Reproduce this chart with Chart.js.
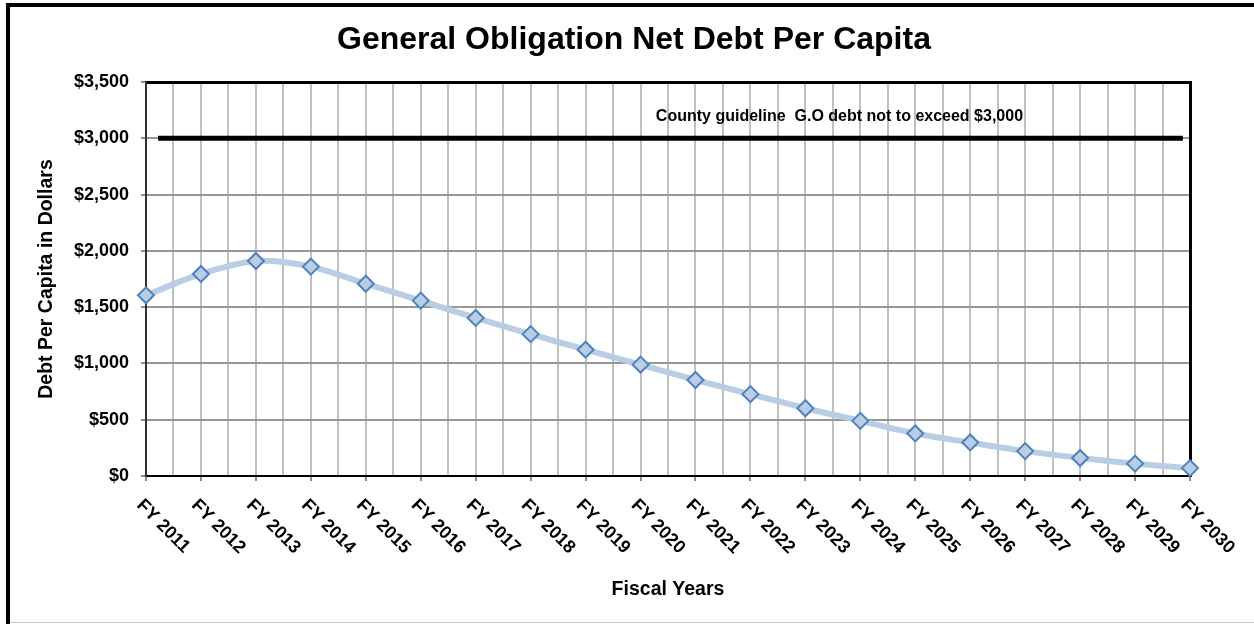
<!DOCTYPE html>
<html>
<head>
<meta charset="utf-8">
<title>General Obligation Net Debt Per Capita</title>
<script src="https://cdn.jsdelivr.net/npm/chart.js@4/dist/chart.umd.min.js"></script>
<style>
  html, body { margin: 0; padding: 0; background: #ffffff; }
  canvas { display: block; }
</style>
</head>
<body>
<canvas id="debtChart" width="1254" height="624"></canvas>
<script>
// Fiscal years on the category axis
const fiscalYears = [
  'FY 2011', 'FY 2012', 'FY 2013', 'FY 2014', 'FY 2015',
  'FY 2016', 'FY 2017', 'FY 2018', 'FY 2019', 'FY 2020',
  'FY 2021', 'FY 2022', 'FY 2023', 'FY 2024', 'FY 2025',
  'FY 2026', 'FY 2027', 'FY 2028', 'FY 2029', 'FY 2030'
];

// General obligation net debt per capita, in dollars
const debtPerCapita = [
  1605, 1795, 1910, 1860, 1708,
  1558, 1404, 1260, 1122, 989,
  853, 727, 602, 490, 378,
  298, 221, 160, 110, 70
];

// County guideline ceiling and the stretch of years the rule line covers
const guidelineLimit = [3000, 3000];
const guidelineSpan = [0.22, 18.87];
const guidelineNote = 'County guideline  G.O debt not to exceed $3,000';
const guidelineNoteAt = 12.62;

// Value axis
const yAxisMax = 3500;
const yAxisStep = 500;

const FONT = '"Liberation Sans", Arial, Helvetica, sans-serif';

const seriesPoints = debtPerCapita.map((v, i) => ({ x: i, y: v }));
const guidelinePoints = guidelineSpan.map((x, i) => ({ x: x, y: guidelineLimit[i] }));

const dollars = v => '$' + Number(v).toLocaleString('en-US');

// White page, outer frame, slanted year labels and the guideline note
const decorations = {
  id: 'decorations',
  beforeDraw(chart) {
    const ctx = chart.ctx;
    ctx.save();
    ctx.fillStyle = '#ffffff';
    ctx.fillRect(0, 0, chart.width, chart.height);
    ctx.restore();
  },
  afterDraw(chart) {
    const ctx = chart.ctx;
    const xs = chart.scales.x;
    const ys = chart.scales.y;
    const area = chart.chartArea;

    ctx.save();
    // outer frame
    ctx.fillStyle = '#000000';
    ctx.fillRect(6, 3, chart.width - 6, 4);
    ctx.fillRect(6, 3, 4, chart.height - 3);
    ctx.fillStyle = '#c8c8c8';
    ctx.fillRect(10, 622, chart.width - 10, 1);

    // year labels, slanted downwards to the right
    const size = 18;
    ctx.font = 'bold ' + size + 'px ' + FONT;
    ctx.fillStyle = '#000000';
    ctx.textAlign = 'left';
    ctx.textBaseline = 'alphabetic';
    const cap = 0.716 * size;
    fiscalYears.forEach((label, i) => {
      const px = xs.getPixelForValue(i);
      ctx.save();
      ctx.translate(px - 1, area.bottom + 21);
      ctx.rotate(Math.PI / 4);
      ctx.fillText(label, 0, cap);
      ctx.restore();
    });

    // guideline note above the rule
    ctx.font = 'bold 16px ' + FONT;
    ctx.textAlign = 'center';
    ctx.fillText(guidelineNote, xs.getPixelForValue(guidelineNoteAt), ys.getPixelForValue(guidelineLimit[0]) - 17);
    ctx.restore();
  }
};

new Chart(document.getElementById('debtChart'), {
  type: 'line',
  data: {
    datasets: [
      {
        label: 'Debt Per Capita',
        data: seriesPoints,
        borderColor: '#b9cde5',
        borderWidth: 6,
        tension: 0.3,
        pointStyle: 'rectRot',
        pointRadius: 8,
        pointBackgroundColor: '#b9cde5',
        pointBorderColor: '#4f81bd',
        pointBorderWidth: 2,
        clip: false,
        order: 1
      },
      {
        label: 'Guideline',
        data: guidelinePoints,
        borderColor: '#000000',
        borderWidth: 5,
        pointRadius: 0,
        tension: 0,
        order: 2
      }
    ]
  },
  options: {
    responsive: false,
    animation: false,
    layout: { padding: { left: 14, right: 0, top: 0, bottom: 0 } },
    plugins: {
      legend: { display: false },
      tooltip: { enabled: false },
      title: {
        display: true,
        text: 'General Obligation Net Debt Per Capita',
        color: '#000000',
        font: { family: FONT, size: 32, weight: 'bold', lineHeight: 1.2 },
        padding: { top: 21, bottom: 22.6 }
      }
    },
    scales: {
      x: {
        type: 'linear',
        position: 'bottom',
        min: 0,
        max: fiscalYears.length - 1,
        afterFit: s => { s.height = 148; },
        ticks: { display: false, stepSize: 0.5, autoSkip: false },
        grid: {
          color: '#c0c0c0',
          lineWidth: 2,
          drawTicks: true,
          tickLength: 5,
          tickWidth: 2,
          tickColor: c => (c.tick && Number.isInteger(c.tick.value)) ? '#8c8c8c' : 'rgba(0,0,0,0)'
        },
        border: { display: true, color: '#000000', width: 2 },
        title: {
          display: true,
          text: 'Fiscal Years',
          color: '#000000',
          font: { family: FONT, size: 19.5, weight: 'bold', lineHeight: 1.2 },
          padding: { top: 90, bottom: 22.3 }
        }
      },
      xTop: {
        type: 'linear',
        position: 'top',
        display: true,
        afterFit: s => { s.height = 0; },
        ticks: { display: false },
        grid: { display: false, drawTicks: false },
        border: { display: true, color: '#000000', width: 3 }
      },
      y: {
        type: 'linear',
        position: 'left',
        min: 0,
        max: yAxisMax,
        afterFit: s => { s.width = 132; },
        ticks: {
          stepSize: yAxisStep,
          padding: 12,
          color: '#000000',
          font: { family: FONT, size: 18, weight: 'bold' },
          callback: v => dollars(v)
        },
        grid: {
          color: '#969696',
          lineWidth: 2,
          drawTicks: true,
          tickLength: 5,
          tickColor: '#8c8c8c'
        },
        border: { display: true, color: '#333333', width: 2 },
        title: {
          display: true,
          text: 'Debt Per Capita in Dollars',
          color: '#000000',
          font: { family: FONT, size: 19.5, weight: 'bold', lineHeight: 1.2 },
          padding: { top: 20.6, bottom: 4 }
        }
      },
      yRight: {
        type: 'linear',
        position: 'right',
        display: true,
        afterFit: s => { s.width = 64; },
        ticks: { display: false },
        grid: { display: false, drawTicks: false },
        border: { display: true, color: '#000000', width: 3 }
      }
    }
  },
  plugins: [decorations]
});
</script>
</body>
</html>
